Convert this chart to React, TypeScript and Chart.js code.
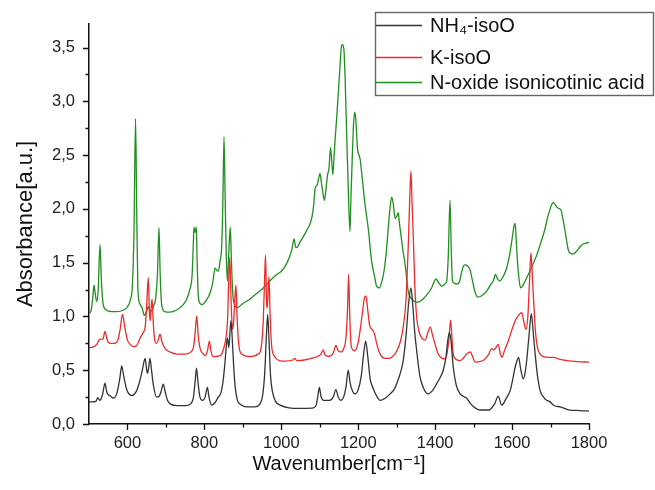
import React, { useEffect, useRef } from 'react';
import { Chart, registerables } from 'chart.js';

Chart.register(...registerables);

const FONT = '"Liberation Sans", Arial, "DejaVu Sans", sans-serif';

const seriesLabels = ['NH₄-isoO', 'K-isoO', 'N-oxide isonicotinic acid'];
const seriesColors = ['#333333', '#ee2a2a', '#1f8f1f'];

// NH4-isoO
const nh4Wn = [500, 510, 518, 523, 528, 535, 541.6, 546, 551, 556, 563, 572, 580, 585, 590, 598, 611, 624, 632, 638, 643, 646, 650, 652, 655, 658.6, 662, 667, 676, 683, 688, 693, 698, 704, 712, 730, 750, 765, 772, 776, 779.5, 783, 788, 795, 802, 806, 808, 812, 819, 828, 836, 842, 848, 853, 857, 860, 863.5, 866, 869, 872, 876, 880, 886, 895, 910, 930, 945, 952, 957, 961, 964.5, 968, 972, 977, 985, 997, 1020, 1050, 1080, 1090, 1095, 1099, 1103, 1110, 1125, 1135, 1142, 1148, 1154, 1162, 1168, 1174, 1179, 1186, 1192, 1200, 1208, 1214, 1219.4, 1225, 1231, 1239, 1248, 1257, 1270, 1283, 1293, 1300, 1310, 1317, 1325, 1331, 1337, 1342, 1347, 1352, 1360, 1369, 1382, 1395, 1404, 1414, 1421, 1428, 1433, 1437, 1441, 1447, 1455, 1465, 1472, 1477, 1482, 1490, 1500, 1517, 1540, 1555, 1564, 1573, 1585, 1595, 1602, 1608, 1614, 1617, 1622, 1629, 1634, 1638, 1644, 1650, 1655, 1660, 1666, 1673, 1682, 1690, 1697, 1710, 1725, 1750, 1775, 1800];
const nh4Abs = [0.205, 0.205, 0.21, 0.245, 0.22, 0.27, 0.38, 0.3, 0.27, 0.26, 0.24, 0.28, 0.42, 0.54, 0.45, 0.32, 0.265, 0.31, 0.4, 0.49, 0.58, 0.61, 0.5, 0.47, 0.52, 0.61, 0.52, 0.37, 0.25, 0.26, 0.31, 0.37, 0.3, 0.22, 0.185, 0.17, 0.17, 0.19, 0.26, 0.4, 0.52, 0.4, 0.26, 0.22, 0.25, 0.32, 0.34, 0.25, 0.175, 0.2, 0.25, 0.28, 0.38, 0.55, 0.72, 0.8, 0.71, 0.82, 0.96, 0.82, 0.55, 0.35, 0.22, 0.18, 0.16, 0.16, 0.19, 0.28, 0.48, 0.8, 1.02, 0.78, 0.45, 0.3, 0.21, 0.175, 0.15, 0.145, 0.148, 0.17, 0.26, 0.34, 0.26, 0.22, 0.22, 0.25, 0.32, 0.25, 0.22, 0.25, 0.34, 0.5, 0.38, 0.3, 0.28, 0.32, 0.45, 0.65, 0.77, 0.62, 0.42, 0.33, 0.26, 0.22, 0.24, 0.28, 0.32, 0.375, 0.48, 0.59, 0.85, 1.12, 1.265, 1.1, 0.85, 0.68, 0.45, 0.34, 0.28, 0.32, 0.375, 0.44, 0.5, 0.62, 0.78, 0.85, 0.78, 0.53, 0.36, 0.28, 0.26, 0.25, 0.24, 0.2, 0.16, 0.13, 0.13, 0.19, 0.26, 0.175, 0.24, 0.31, 0.42, 0.53, 0.6, 0.62, 0.52, 0.42, 0.48, 0.59, 0.82, 1.025, 0.85, 0.65, 0.45, 0.31, 0.25, 0.22, 0.21, 0.17, 0.16, 0.13, 0.125, 0.12];

// K-isoO
const kWn = [500, 510, 520, 526, 530, 536, 541.6, 546, 550, 558, 567, 575, 581, 587, 593, 600, 607, 615, 624, 633, 641, 646, 650, 654, 657, 659, 661, 664, 667, 670, 675, 680, 684.6, 690, 698, 710, 728, 750, 765, 772, 776, 780, 784, 789, 795, 802, 808, 813, 817, 823, 835, 845, 850, 855, 860, 863, 866, 869, 873, 876, 879, 882, 885, 889, 897, 918, 940, 948, 953, 957, 959, 962, 963.5, 966, 968, 971, 975, 982, 995, 1010, 1030, 1035, 1040, 1060, 1083, 1095, 1103, 1109, 1114, 1125, 1135, 1142, 1148, 1155, 1162, 1168, 1172, 1175, 1178, 1182, 1191, 1200, 1206, 1211, 1216, 1220, 1225, 1230, 1236, 1242, 1250, 1257, 1270, 1280, 1295, 1303, 1309, 1316, 1324, 1330, 1334, 1337, 1340, 1343, 1347, 1352, 1358, 1365, 1374, 1381, 1387, 1393, 1400, 1408, 1418, 1426, 1432, 1436, 1440, 1444, 1447, 1455, 1465, 1475, 1482, 1492, 1497, 1504, 1515, 1525, 1538, 1547, 1553, 1558, 1564, 1569, 1573, 1582, 1590, 1600, 1608, 1617, 1625, 1630, 1636, 1641, 1645, 1649, 1653, 1657, 1661, 1666, 1673, 1681, 1695, 1707, 1725, 1742, 1770, 1800];
const kAbs = [0.71, 0.715, 0.74, 0.78, 0.79, 0.79, 0.86, 0.8, 0.76, 0.75, 0.75, 0.78, 0.88, 1.02, 0.9, 0.78, 0.74, 0.72, 0.73, 0.8, 0.85, 0.9, 1.1, 1.36, 1.05, 0.96, 1.05, 1.16, 0.95, 0.8, 0.75, 0.78, 0.835, 0.76, 0.7, 0.67, 0.65, 0.65, 0.67, 0.72, 0.85, 1.005, 0.82, 0.7, 0.66, 0.636, 0.68, 0.77, 0.68, 0.627, 0.63, 0.65, 0.7, 0.78, 0.95, 1.3, 1.55, 1.2, 0.88, 0.95, 1.15, 1.29, 1.0, 0.75, 0.65, 0.627, 0.65, 0.72, 0.95, 1.4, 1.57, 1.1, 1.08, 1.25, 1.37, 1.0, 0.72, 0.63, 0.59, 0.585, 0.595, 0.61, 0.59, 0.595, 0.615, 0.63, 0.65, 0.69, 0.64, 0.63, 0.66, 0.73, 0.68, 0.67, 0.7, 0.8, 1.05, 1.39, 1.0, 0.72, 0.68, 0.76, 0.9, 1.04, 1.17, 1.19, 1.05, 0.91, 0.88, 0.84, 0.72, 0.65, 0.61, 0.61, 0.65, 0.7, 0.76, 0.88, 1.14, 1.65, 2.1, 2.35, 2.05, 1.76, 1.3, 0.99, 0.86, 0.8, 0.78, 0.85, 0.9, 0.83, 0.74, 0.65, 0.61, 0.605, 0.68, 0.8, 0.965, 0.78, 0.65, 0.6, 0.59, 0.62, 0.65, 0.67, 0.63, 0.575, 0.58, 0.59, 0.64, 0.7, 0.69, 0.71, 0.74, 0.66, 0.62, 0.7, 0.77, 0.88, 0.96, 1.01, 1.035, 0.96, 0.88, 1.0, 1.3, 1.59, 1.35, 1.08, 0.85, 0.71, 0.65, 0.627, 0.62, 0.62, 0.6, 0.59, 0.58, 0.575];

// N-oxide isonicotinic acid
const noxWn = [500, 505, 510, 513, 516, 520, 524, 528.6, 532, 537, 545, 550, 570, 590, 600, 608, 613, 617, 621, 624, 627, 632, 638, 644, 649, 654, 658, 663, 668, 673, 678, 682, 685, 689, 697, 710, 728, 745, 754, 762, 768, 771, 773, 776, 779, 781, 784, 789, 793, 805, 815, 822, 827.6, 832, 836, 841, 845, 848, 851, 854, 857, 860, 863, 867.5, 870, 874, 879, 884, 900, 918, 935, 953, 970, 988, 1000, 1012, 1022, 1028, 1033, 1037, 1040, 1050, 1057, 1066, 1075, 1080, 1084, 1088, 1093, 1097, 1100.6, 1104, 1108, 1112, 1116, 1120, 1124, 1128, 1131, 1134, 1137, 1140, 1145, 1149, 1153, 1156, 1159, 1163, 1166, 1170, 1174, 1178.6, 1181, 1185, 1188, 1191, 1194, 1198, 1202, 1205, 1210, 1217, 1226, 1235, 1242, 1248, 1255, 1261, 1267, 1273, 1278, 1283, 1287, 1291, 1296, 1300, 1304, 1307, 1311, 1316, 1322, 1330, 1340, 1352, 1365, 1378, 1390, 1397, 1402, 1408, 1417, 1425, 1430, 1434, 1438.6, 1442, 1445, 1450, 1456, 1463, 1468, 1473, 1477, 1484, 1490, 1496, 1503, 1510, 1520, 1534, 1545, 1551, 1557, 1562, 1568, 1578, 1586, 1594, 1600, 1605, 1608, 1611, 1614, 1618, 1622, 1630, 1638, 1650, 1664, 1676, 1686, 1693, 1699, 1703, 1707, 1712, 1718, 1727, 1732, 1738, 1742, 1746, 1752, 1759, 1766, 1775, 1781, 1790, 1800];
const noxAbs = [1.03, 1.05, 1.18, 1.29, 1.22, 1.14, 1.25, 1.67, 1.35, 1.11, 1.06, 1.05, 1.045, 1.06, 1.09, 1.16, 1.3, 1.8, 2.84, 2.0, 1.265, 1.12, 1.08, 1.01, 1.04, 1.09, 1.06, 1.05, 1.1, 1.16, 1.4, 1.825, 1.4, 1.11, 1.045, 1.04, 1.06, 1.11, 1.16, 1.25, 1.38, 1.65, 1.83, 1.78, 1.83, 1.55, 1.2, 1.12, 1.11, 1.15, 1.22, 1.32, 1.45, 1.43, 1.42, 1.52, 1.65, 2.05, 2.67, 2.1, 1.55, 1.33, 1.55, 1.83, 1.55, 1.2, 1.11, 1.08, 1.12, 1.16, 1.21, 1.265, 1.33, 1.39, 1.42, 1.48, 1.56, 1.63, 1.72, 1.65, 1.64, 1.7, 1.74, 1.8, 1.865, 1.93, 2.03, 2.19, 2.22, 2.28, 2.33, 2.25, 2.15, 2.08, 2.18, 2.31, 2.38, 2.57, 2.45, 2.32, 2.48, 2.65, 2.9, 3.12, 3.35, 3.5, 3.53, 3.47, 3.2, 2.68, 2.2, 1.79, 2.1, 2.53, 2.8, 2.9, 2.82, 2.56, 2.5, 2.46, 2.3, 2.06, 1.82, 1.51, 1.38, 1.28, 1.265, 1.32, 1.42, 1.6, 1.82, 2.02, 2.11, 2.05, 1.91, 1.93, 1.965, 1.87, 1.76, 1.62, 1.48, 1.235, 1.16, 1.13, 1.15, 1.2, 1.26, 1.32, 1.35, 1.32, 1.28, 1.3, 1.33, 1.55, 2.08, 1.6, 1.33, 1.31, 1.3, 1.32, 1.4, 1.465, 1.48, 1.47, 1.44, 1.35, 1.235, 1.18, 1.19, 1.235, 1.3, 1.33, 1.39, 1.35, 1.33, 1.38, 1.45, 1.58, 1.72, 1.84, 1.865, 1.7, 1.51, 1.35, 1.265, 1.3, 1.36, 1.45, 1.57, 1.7, 1.82, 1.93, 2.0, 2.04, 2.06, 2.04, 2.01, 1.99, 1.91, 1.79, 1.7, 1.62, 1.585, 1.58, 1.6, 1.64, 1.665, 1.68, 1.69];

const xTicks = [600, 800, 1000, 1200, 1400, 1600, 1800];
const xMinorTicks = [700, 900, 1100, 1300, 1500, 1700];
const yTicks = [0, 0.5, 1.0, 1.5, 2.0, 2.5, 3.0, 3.5];
const yMinorTicks = [0.25, 0.75, 1.25, 1.75, 2.25, 2.75, 3.25];
const xRange = [500, 1800];
const yRange = [0, 3.72];

const tickMarksPlugin = {
  id: 'tickMarks',
  afterDraw(chart: any) {
    const { ctx, chartArea } = chart;
    const xs = chart.scales.x;
    const ys = chart.scales.y;
    ctx.save();
    ctx.strokeStyle = '#111';
    ctx.lineWidth = 1.3;
    ctx.beginPath();
    const drawX = (v: number, len: number) => {
      const px = Math.round(xs.getPixelForValue(v)) + 0.5;
      ctx.moveTo(px, chartArea.bottom);
      ctx.lineTo(px, chartArea.bottom + len);
    };
    const drawY = (v: number, len: number) => {
      const py = Math.round(ys.getPixelForValue(v)) + 0.5;
      ctx.moveTo(chartArea.left, py);
      ctx.lineTo(chartArea.left - len, py);
    };
    xTicks.forEach((v) => drawX(v, 6));
    xMinorTicks.forEach((v) => drawX(v, 3.5));
    yTicks.forEach((v) => drawY(v, 6));
    yMinorTicks.forEach((v) => drawY(v, 3.5));
    ctx.stroke();
    ctx.restore();
  },
};

const boxLegendPlugin = {
  id: 'boxLegend',
  afterDraw(chart: any) {
    const { ctx } = chart;
    ctx.save();
    ctx.fillStyle = '#ffffff';
    ctx.fillRect(375.5, 12.5, 278, 83);
    ctx.strokeStyle = '#666';
    ctx.lineWidth = 1.4;
    ctx.strokeRect(375.5, 12.5, 278, 83);
    const rows = [25, 57, 82];
    chart.data.datasets.forEach((ds: any, i: number) => {
      ctx.strokeStyle = ds.borderColor;
      ctx.lineWidth = 1.3;
      ctx.beginPath();
      ctx.moveTo(376, rows[i] + 0.5);
      ctx.lineTo(422, rows[i] + 0.5);
      ctx.stroke();
      ctx.fillStyle = '#111';
      ctx.font = `20px ${FONT}`;
      ctx.textBaseline = 'middle';
      ctx.textAlign = 'left';
      ctx.fillText(ds.label, 430, rows[i] + 1);
    });
    ctx.restore();
  },
};

function toPoints(xs: number[], ys: number[]) {
  return xs.map((x, i) => ({ x, y: ys[i] }));
}

export default function App() {
  const canvasRef = useRef<HTMLCanvasElement | null>(null);

  useEffect(() => {
    const canvas = canvasRef.current;
    if (!canvas) return;
    const datasets = [
      toPoints(nh4Wn, nh4Abs),
      toPoints(kWn, kAbs),
      toPoints(noxWn, noxAbs),
    ].map((pts, i) => ({
      label: seriesLabels[i],
      data: pts,
      borderColor: seriesColors[i],
      backgroundColor: seriesColors[i],
      borderWidth: 1.3,
      pointRadius: 0,
      fill: false,
      cubicInterpolationMode: 'monotone' as const,
    }));

    const chart = new Chart(canvas, {
      type: 'line',
      data: { datasets },
      plugins: [tickMarksPlugin, boxLegendPlugin],
      options: {
        animation: false,
        responsive: false,
        layout: { padding: { top: 20, right: 66, bottom: 0, left: 0 } },
        plugins: {
          legend: { display: false },
          tooltip: { enabled: false },
        },
        scales: {
          x: {
            type: 'linear',
            min: xRange[0],
            max: xRange[1],
            afterFit: (s: any) => {
              s.height = 66;
            },
            afterBuildTicks: (s: any) => {
              s.ticks = xTicks.map((v) => ({ value: v }));
            },
            grid: { display: false, drawTicks: false },
            border: { display: true, color: '#111', width: 1.5 },
            ticks: {
              padding: 10,
              color: '#222',
              font: { family: FONT, size: 16.5 },
              maxRotation: 0,
              autoSkip: false,
              callback: (v: any) => String(v),
            },
            title: {
              display: true,
              text: 'Wavenumber[cm⁻¹]',
              color: '#111',
              font: { family: FONT, size: 20 },
              padding: { top: 0, bottom: 14 },
            },
          },
          y: {
            type: 'linear',
            min: yRange[0],
            max: yRange[1],
            afterFit: (s: any) => {
              s.width = 89;
            },
            afterBuildTicks: (s: any) => {
              s.ticks = yTicks.map((v) => ({ value: v }));
            },
            grid: { display: false, drawTicks: false },
            border: { display: true, color: '#111', width: 1.5 },
            ticks: {
              padding: 14,
              color: '#222',
              font: { family: FONT, size: 16.5 },
              autoSkip: false,
              callback: (v: any) => Number(v).toFixed(1).replace('.', ','),
            },
            title: {
              display: true,
              text: 'Absorbance[a.u.]',
              color: '#111',
              font: { family: FONT, size: 22 },
              padding: { top: 13, bottom: 0 },
            },
          },
        },
      },
    });
    return () => chart.destroy();
  }, []);

  return (
    <div style={{ position: 'absolute', left: 0, top: 0, width: 655, height: 490, background: '#fff' }}>
      <canvas ref={canvasRef} width={655} height={490} style={{ display: 'block' }} />
    </div>
  );
}
